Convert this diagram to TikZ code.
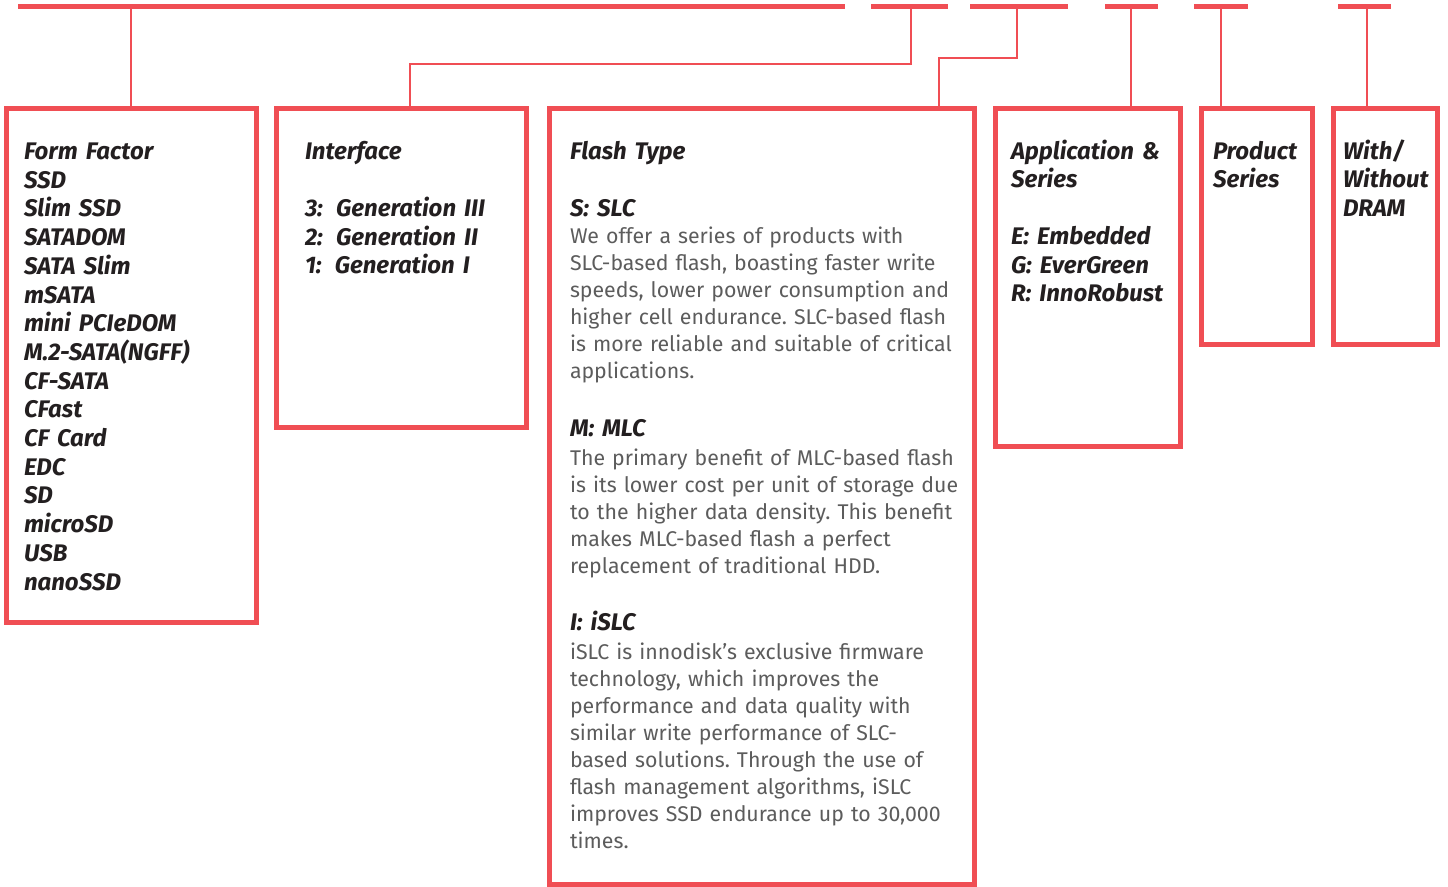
\documentclass[tikz,border=0pt]{standalone}
\usepackage{fontspec}
\setmainfont{Fira Sans}
\frenchspacing
\definecolor{brand}{RGB}{240,78,84}
\definecolor{ink}{RGB}{35,31,32}
\definecolor{bodygray}{RGB}{92,92,92}
\tikzset{
  box/.style={draw=brand, line width=5pt, inner sep=0pt, outer sep=0pt, rectangle},
  bar/.style={draw=brand, line width=5.3pt},
  conn/.style={draw=brand, line width=2.5pt, line join=miter},
  hd/.style={anchor=base west, inner sep=0pt, outer sep=0pt, text width=400pt, align=left,
    text=ink, font=\fontsize{24}{28.7}\selectfont\bfseries\itshape},
  bd/.style={anchor=base west, inner sep=0pt, outer sep=0pt, text width=420pt, align=left,
    text=bodygray, font=\fontsize{21.3}{27}\selectfont},
}
\begin{document}
\begin{tikzpicture}[x=1pt,y=-1pt]
\useasboundingbox (0,0) rectangle (1448,886);
\fill[white] (0,0) rectangle (1448,886);

% boxes
\node[box, minimum width=250.5pt, minimum height=514.5pt] (b1) at (131.25,365.25) {};
\node[box, minimum width=250pt, minimum height=319.5pt] (b2) at (401.5,267.75) {};
\node[box, minimum width=424.5pt, minimum height=776.5pt] (b3) at (761.75,496.25) {};
\node[box, minimum width=185pt, minimum height=338.5pt] (b4) at (1088,277.25) {};
\node[box, minimum width=111pt, minimum height=236pt] (b5) at (1256.5,226) {};
\node[box, minimum width=104pt, minimum height=236pt] (b6) at (1385,226) {};

% top bar segments
\coordinate (s1a) at (18,6.7);   \coordinate (s1b) at (845,6.7);
\coordinate (s2a) at (871,6.7);  \coordinate (s2b) at (948,6.7);
\coordinate (s3a) at (970,6.7);  \coordinate (s3b) at (1068,6.7);
\coordinate (s4a) at (1105,6.7); \coordinate (s4b) at (1158,6.7);
\coordinate (s5a) at (1194,6.7); \coordinate (s5b) at (1248,6.7);
\coordinate (s6a) at (1338,6.7); \coordinate (s6b) at (1391,6.7);
\draw[bar] (s1a) -- (s1b);
\draw[bar] (s2a) -- (s2b);
\draw[bar] (s3a) -- (s3b);
\draw[bar] (s4a) -- (s4b);
\draw[bar] (s5a) -- (s5b);
\draw[bar] (s6a) -- (s6b);

% connectors
\coordinate (t1) at (131,8);
\coordinate (t2) at (911,8);
\coordinate (t3) at (1017,8);
\coordinate (t4) at (1131,8);
\coordinate (t5) at (1221,8);
\coordinate (t6) at (1367,8);
\coordinate (k2) at (410,64);
\coordinate (k3) at (939,58);
\draw[conn] (t1) -- (b1.north -| t1);
\draw[conn] (t2) |- (k2) -- (b2.north -| k2);
\draw[conn] (t3) |- (k3) -- (b3.north -| k3);
\draw[conn] (t4) -- (b4.north -| t4);
\draw[conn] (t5) -- (b5.north -| t5);
\draw[conn] (t6) -- (b6.north -| t6);

% box 1
\node[hd] (ff) at (24,159.5) {Form Factor\\SSD\\Slim SSD\\SATADOM\\SATA Slim\\mSATA\\mini PCIeDOM\\M.2-SATA(NGFF)\\CF-SATA\\CFast\\CF Card\\EDC\\SD\\microSD\\USB\\nanoSSD};

% box 2
\node[hd] (ifh) at (305,159.5) {Interface};
\node[hd] (ifl) at (305,216.5) {3:\hspace{0.55em}Generation III\\2:\hspace{0.55em}Generation II\\1:\hspace{0.55em}Generation I};

% box 3
\node[hd] (fth) at (570,159) {Flash Type};
\node[hd] (slch) at (570,216) {S: SLC};
\node[bd] (slcb) at (570,243) {We offer a series of products with\\SLC-based flash, boasting faster write\\speeds, lower power consumption and\\higher cell endurance. SLC-based flash\\is more reliable and suitable of critical\\applications.};
\node[hd] (mlch) at (570,436.5) {M: MLC};
\node[bd] (mlcb) at (570,465) {The primary benefit of MLC-based flash\\is its lower cost per unit of storage due\\to the higher data density. This benefit\\makes MLC-based flash a perfect\\replacement of traditional HDD.};
\node[hd] (islch) at (570,630.7) {I: iSLC};
\node[bd] (islcb) at (570,659.3) {iSLC is innodisk’s exclusive firmware\\technology, which improves the\\performance and data quality with\\similar write performance of SLC-\\based solutions. Through the use of\\flash management algorithms, iSLC\\improves SSD endurance up to 30,000\\times.};

% box 4
\node[hd] (aph) at (1011,159) {Application \&\\Series};
\node[hd] (apl) at (1011,244.5) {E: Embedded\\G: EverGreen\\R: InnoRobust};

% box 5
\node[hd] (ps) at (1213,159) {Product\\Series};

% box 6
\node[hd] (wd) at (1343,159) {With/\\Without\\DRAM};
\end{tikzpicture}
\end{document}
